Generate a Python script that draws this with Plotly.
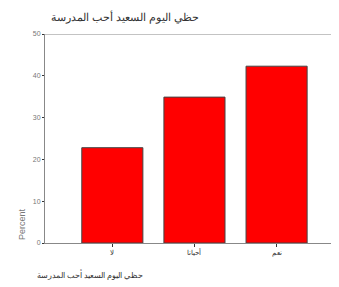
import plotly.graph_objects as go

categories = ["لا", "أحيانا", "نعم"]
percent = [22.8, 34.9, 42.3]
y_ticks = [0, 10, 20, 30, 40, 50]
title_text = "حظي اليوم السعيد أحب المدرسة"
x_title = "حظي اليوم السعيد أحب المدرسة"
y_title = "Percent"

# page body has an 8px margin; size the figure so it ends at the window edge
OFF = 8
W, H = 339 - OFF, 287 - OFF
L, T, B = 45 - OFF, 34 - OFF, 44
pw, ph = W - L, H - T - B

def px(xabs):
    return (xabs - OFF - L) / pw

def py(yabs):
    return (H - B - (yabs - OFF)) / ph

fig = go.Figure()
fig.add_trace(go.Bar(
    x=categories, y=percent,
    marker=dict(color="#FF0000", line=dict(color="#444444", width=1)),
))

fig.update_layout(
    width=W, height=H,
    margin=dict(l=L, r=0, t=T, b=B, autoexpand=False),
    paper_bgcolor="white", plot_bgcolor="white",
    font=dict(family="Liberation Sans, Arial, sans-serif", color="#222222"),
    bargap=0.256,
    showlegend=False,
    annotations=[
        dict(text=title_text, xref="paper", yref="paper", x=px(125), y=py(17),
             xanchor="center", yanchor="middle",
             showarrow=False, font=dict(size=11, color="#333333")),
        dict(text=x_title, xref="paper", yref="paper", x=px(90), y=py(274),
             xanchor="center", yanchor="middle",
             showarrow=False, font=dict(size=7.5, color="#333333")),
        dict(text=y_title, xref="paper", yref="paper", x=px(22), y=py(224),
             xanchor="center", yanchor="middle",
             showarrow=False, textangle=-90, font=dict(size=9, color="#777777")),
    ],
)

fig.update_xaxes(
    range=[-0.82, 2.76], showline=True, linecolor="#888888", linewidth=1,
    ticks="outside", ticklen=3, tickcolor="#333333",
    tickfont=dict(size=7, color="#333333"),
    showgrid=False, zeroline=False, fixedrange=True,
)
fig.update_yaxes(
    range=[0, 50], tickvals=y_ticks, showline=True, linecolor="#888888", linewidth=1,
    ticks="outside", ticklen=2, tickcolor="#333333",
    tickfont=dict(size=7, color="#777777"),
    showgrid=False, zeroline=False, fixedrange=True,
)
fig.add_shape(type="line", xref="paper", x0=0, x1=1, yref="y", y0=50, y1=50,
              line=dict(color="#888888", width=1))

fig.write_html("out.html")
